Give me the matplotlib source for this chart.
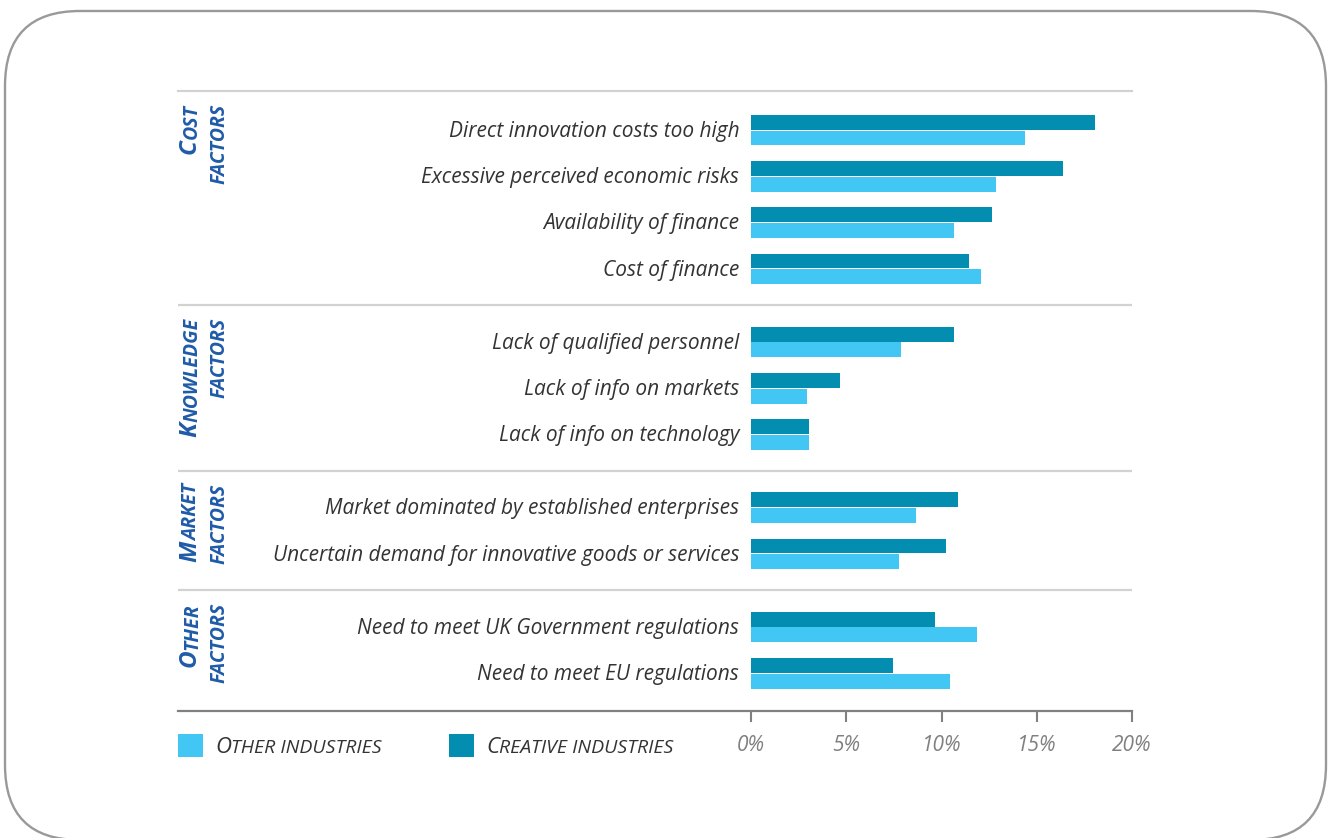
import matplotlib
matplotlib.use("Agg")
import matplotlib.pyplot as plt
from matplotlib.patches import FancyBboxPatch, Rectangle

plt.rcParams['font.family'] = ['Open Sans', 'DejaVu Sans']

group_names = ["COST", "KNOWLEDGE", "MARKET", "OTHER"]
group_sizes = [4, 3, 2, 2]
labels = [
    "Direct innovation costs too high",
    "Excessive perceived economic risks",
    "Availability of finance",
    "Cost of finance",
    "Lack of qualified personnel",
    "Lack of info on markets",
    "Lack of info on technology",
    "Market dominated by established enterprises",
    "Uncertain demand for innovative goods or services",
    "Need to meet UK Government regulations",
    "Need to meet EU regulations",
]
creative = [18.05, 16.4, 12.65, 11.45, 10.65, 4.65, 3.05, 10.85, 10.25, 9.65, 7.45]
other = [14.4, 12.85, 10.65, 12.05, 7.85, 2.95, 3.05, 8.65, 7.75, 11.85, 10.45]
ticks = [0, 5, 10, 15, 20]
legend_names = ["OTHER INDUSTRIES", "CREATIVE INDUSTRIES"]

W, H = 1328, 838
C_DARK = "#028db1"
C_LIGHT = "#42c7f4"
C_BLUE = "#1f5ba8"
C_TEXT = "#333333"
C_GRAY = "#808080"
C_LINE = "#d2d2d2"

# row positions, one unit per row, wider gap between groups
pos = []
seps = []
y = 0.84
for gi, n in enumerate(group_sizes):
    for i in range(n):
        pos.append(y)
        y += 1
    y -= 1
    if gi < len(group_sizes) - 1:
        seps.append(y + 0.79)
        y += 1.58
ymax = y + 0.82

fig = plt.figure(figsize=(W / 100, H / 100), dpi=100)

# pixel overlay for frame and legend (y measured from the bottom)
bg = fig.add_axes([0, 0, 1, 1])
bg.set_xlim(0, W)
bg.set_ylim(0, H)
bg.axis("off")
bg.add_patch(FancyBboxPatch((5, H - 840), 1321, 829, boxstyle="round,pad=0,rounding_size=75",
                            fill=False, ec="#999999", lw=1.7, clip_on=False))

ax = fig.add_axes([178 / W, 1 - 711 / H, (1132 - 178) / W, (711 - 91) / H])
ax.set_facecolor("none")
px = 19.05  # pixels per percent
xmin = -(751 - 178) / px
ax.set_xlim(xmin, 20)
ax.set_ylim(ymax, 0)

ax.barh([p - 0.165 for p in pos], creative, height=0.32, color=C_DARK)
ax.barh([p + 0.175 for p in pos], other, height=0.32, color=C_LIGHT)

for p, lab in zip(pos, labels):
    ax.text(-0.62, p + 0.03, lab, ha="right", va="center", fontsize=15, style="italic", color=C_TEXT)

for s in seps:
    ax.axhline(s, color=C_LINE, lw=1.6)

for side in ["left", "right"]:
    ax.spines[side].set_visible(False)
ax.spines["top"].set_color(C_LINE)
ax.spines["top"].set_linewidth(1.6)
ax.spines["bottom"].set_color(C_GRAY)
ax.spines["bottom"].set_linewidth(1.6)
ax.set_yticks([])
ax.set_xticks(ticks)
ax.set_xticklabels([f"{t}%" for t in ticks], fontsize=15, style="italic", color=C_GRAY)
ax.tick_params(axis="x", length=8, width=1.5, color=C_GRAY, pad=9)

# group labels in small caps, rotated
tops = [0] + seps
x1 = (202 - 751) / px
x2 = (229 - 751) / px
for name, top in zip(group_names, tops):
    yt = top + 13 / 46.27
    rest = ax.text(x1, yt, name[1:], rotation=90, ha="right", va="top", fontsize=14,
                   fontweight="bold", style="italic", color=C_BLUE)
    ax.annotate(name[0], xy=(1, 0), xycoords=rest, rotation=90, ha="right", va="top",
                fontsize=17.5, fontweight="bold", style="italic", color=C_BLUE)
    ax.text(x2, yt, "FACTORS", rotation=90, ha="right", va="top", fontsize=14,
            fontweight="bold", style="italic", color=C_BLUE)

# legend
for (sx, tx), name, col in zip([(178, 215), (449, 486)], legend_names, [C_LIGHT, C_DARK]):
    bg.add_patch(Rectangle((sx, H - 757), 25, 23, color=col, lw=0))
    first = bg.text(tx, H - 753, name[0], ha="left", va="baseline", fontsize=16,
                    style="italic", color=C_TEXT)
    bg.annotate(name[1:], xy=(1, H - 753), xycoords=(first, "data"), ha="left", va="baseline",
                fontsize=14, style="italic", color=C_TEXT)

fig.savefig("out.png", dpi=100)
